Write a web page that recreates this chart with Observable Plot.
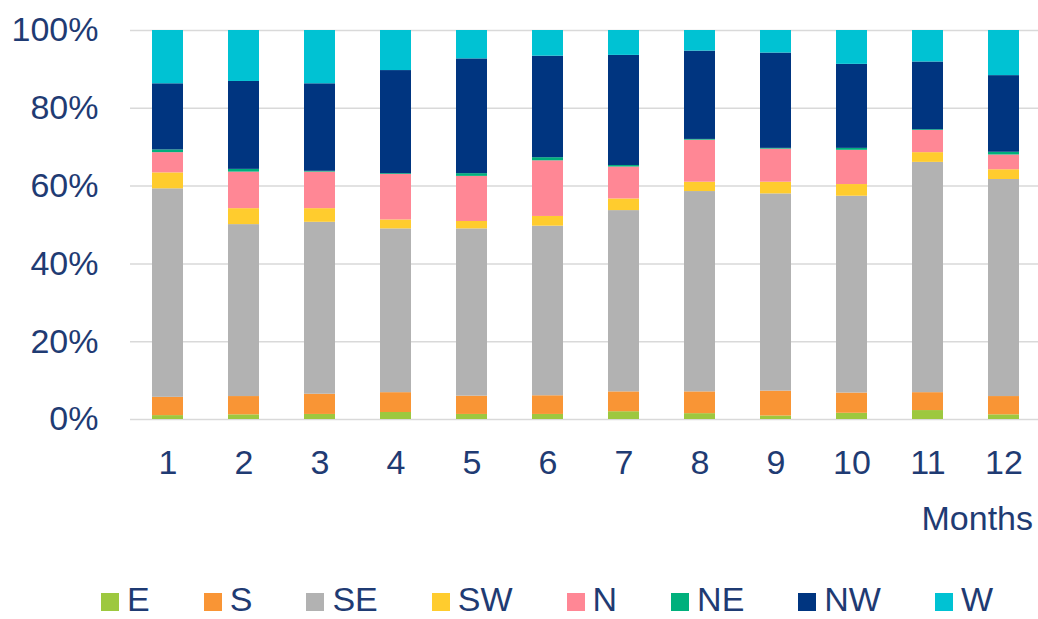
<!DOCTYPE html>
<html>
<head>
<meta charset="utf-8">
<script src="https://cdn.jsdelivr.net/npm/d3@7"></script>
<script src="https://cdn.jsdelivr.net/npm/@observablehq/plot@0.6"></script>
<style>
  html, body { margin: 0; padding: 0; background: #fff; overflow: hidden; }
  #wrap { position: relative; width: 1038px; height: 619px; font-family: "Liberation Sans", Arial, sans-serif; color: #1f3b73; }
  #chart { position: absolute; left: 0; top: 0; }
  #xlabel { position: absolute; right: 5px; top: 501px; font-size: 34px; line-height: 34px; }
  #legend { position: absolute; left: 101px; top: 580px; display: flex; align-items: center; font-size: 34px; line-height: 38px; }
  .item { display: flex; align-items: center; margin-right: 54px; }
  .sw { width: 18px; height: 18px; margin-right: 8px; margin-top: 6px; }
</style>
</head>
<body>
<div id="wrap">
  <div id="chart"></div>
  <div id="xlabel">Months</div>
  <div id="legend"></div>
</div>
<script>
const months = [1, 2, 3, 4, 5, 6, 7, 8, 9, 10, 11, 12];
const seriesNames = ["E", "S", "SE", "SW", "N", "NE", "NW", "W"];
const seriesColors = ["#9dc83f", "#f99535", "#b2b2b2", "#ffcc2e", "#ff8795", "#00b07c", "#003580", "#00c2d3"];
const yTicks = [0, 20, 40, 60, 80, 100];

// Percent share per month
const E  = [1.0, 1.2, 1.3, 1.8, 1.3, 1.3, 2.0, 1.5, 0.9, 1.6, 2.3, 1.2];
const S  = [4.7, 4.7, 5.2, 5.1, 4.7, 4.8, 5.1, 5.6, 6.4, 5.2, 4.6, 4.7];
const SE = [53.6, 44.2, 44.2, 42.1, 43.0, 43.6, 46.6, 51.5, 50.7, 50.6, 59.2, 55.8];
const SW = [4.1, 4.1, 3.5, 2.3, 1.9, 2.5, 3.0, 2.4, 3.0, 3.0, 2.5, 2.5];
const N  = [5.2, 9.4, 9.4, 11.7, 11.6, 14.3, 8.2, 10.8, 8.5, 8.8, 5.7, 3.8];
const NE = [0.7, 0.7, 0.2, 0.2, 0.7, 0.8, 0.4, 0.2, 0.2, 0.5, 0.2, 0.7];
const NW = [17.0, 22.6, 22.5, 26.5, 29.5, 26.1, 28.3, 22.7, 24.5, 21.6, 17.4, 19.7];
const W  = [13.7, 13.1, 13.7, 10.3, 7.3, 6.6, 6.4, 5.3, 5.8, 8.7, 8.1, 11.6];

const seriesValues = [E, S, SE, SW, N, NE, NW, W];
const data = [];
months.forEach((m, i) => {
  seriesNames.forEach((s, j) => {
    data.push({ month: m, dir: s, value: seriesValues[j][i] });
  });
});

const textColor = "#1f3b73";
const plot = Plot.plot({
  width: 1038,
  height: 490,
  marginTop: 30,
  marginBottom: 71,
  marginLeft: 130,
  marginRight: 0,
  style: { fontFamily: '"Liberation Sans", Arial, sans-serif', fontSize: "34px", color: textColor, background: "#fff" },
  x: { domain: months, range: [130, 1042], paddingInner: 0.59, paddingOuter: 0.28, label: null },
  y: { domain: [0, 100], label: null },
  color: { domain: seriesNames, range: seriesColors },
  marks: [
    Plot.ruleY(yTicks, { stroke: "#d9d9d9", strokeWidth: 1.5 }),
    Plot.barY(data, { x: "month", y: "value", fill: "dir", order: seriesNames }),
    Plot.axisY(yTicks, { tickSize: 0, tickPadding: 32, tickFormat: d => d + "%", fill: textColor, fontSize: 34 }),
    Plot.axisX(months, { tickSize: 0, tickPadding: 30, fill: textColor, fontSize: 34, label: null })
  ]
});
document.getElementById("chart").appendChild(plot);

const legend = document.getElementById("legend");
seriesNames.forEach((s, j) => {
  const item = document.createElement("div");
  item.className = "item";
  const sw = document.createElement("div");
  sw.className = "sw";
  sw.style.background = seriesColors[j];
  const t = document.createElement("span");
  t.textContent = s;
  item.appendChild(sw);
  item.appendChild(t);
  legend.appendChild(item);
});
</script>
</body>
</html>
